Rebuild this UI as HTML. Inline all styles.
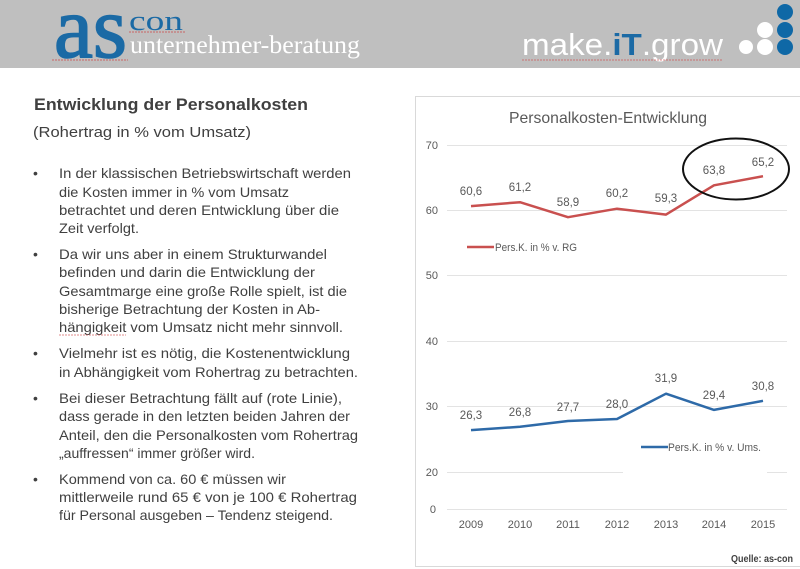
<!DOCTYPE html>
<html>
<head>
<meta charset="utf-8">
<style>
html,body{margin:0;padding:0;background:#fff;}
svg{display:block;}
</style>
</head>
<body>
<svg width="800" height="569" viewBox="0 0 800 569" xmlns="http://www.w3.org/2000/svg">
  <!-- Header -->
  <rect x="0" y="0" width="800" height="68" fill="#bfbfbf"/>
  <text x="54" y="57" font-family="Liberation Serif, serif" font-size="88" fill="#1b6aa5" stroke="#1b6aa5" stroke-width="1.6" textLength="73" lengthAdjust="spacingAndGlyphs">as</text>
  <text x="129" y="30" font-family="Liberation Serif, serif" font-size="28" fill="#1b6aa5" textLength="54" lengthAdjust="spacingAndGlyphs">con</text>
  <text x="130" y="53" font-family="Liberation Serif, serif" font-size="25" fill="#ffffff" textLength="230" lengthAdjust="spacingAndGlyphs">unternehmer-beratung</text>
  <path d="M52 60 L128 60 M129 32 L185 32" stroke="#d04040" stroke-width="1" stroke-dasharray="2,1" opacity="0.7"/>
  <text x="522" y="55" font-family="Liberation Sans, Arial, sans-serif" font-size="31" fill="#ffffff" textLength="201" lengthAdjust="spacingAndGlyphs">make.<tspan fill="#1b6aa5" font-weight="bold">iT</tspan>.grow</text>
  <path d="M522 60 L723 60" stroke="#d04040" stroke-width="1" stroke-dasharray="2,1" opacity="0.6"/>
  <circle cx="785" cy="12" r="8" fill="#0f68a6"/>
  <circle cx="785" cy="30" r="8" fill="#0f68a6"/>
  <circle cx="785" cy="47" r="8" fill="#0f68a6"/>
  <circle cx="765" cy="30" r="8" fill="#ffffff"/>
  <circle cx="765" cy="47" r="8" fill="#ffffff"/>
  <circle cx="746" cy="47" r="7" fill="#ffffff"/>

  <!-- Left text -->
  <g font-family="Liberation Sans, Arial, sans-serif" fill="#404040">
    <text x="34" y="110" font-size="17" font-weight="bold" textLength="274" lengthAdjust="spacingAndGlyphs">Entwicklung der Personalkosten</text>
    <text x="33" y="137" font-size="14.5" textLength="218" lengthAdjust="spacingAndGlyphs">(Rohertrag in % vom Umsatz)</text>
    <g font-size="14">
      <text x="33" y="178">•</text>
      <text x="59" y="178" textLength="292" lengthAdjust="spacingAndGlyphs">In der klassischen Betriebswirtschaft werden</text>
      <text x="59" y="197" textLength="230" lengthAdjust="spacingAndGlyphs">die Kosten immer in % vom Umsatz</text>
      <text x="59" y="215" textLength="280" lengthAdjust="spacingAndGlyphs">betrachtet und deren Entwicklung über die</text>
      <text x="59" y="233" textLength="80" lengthAdjust="spacingAndGlyphs">Zeit verfolgt.</text>

      <text x="33" y="259">•</text>
      <text x="59" y="259" textLength="268" lengthAdjust="spacingAndGlyphs">Da wir uns aber in einem Strukturwandel</text>
      <text x="59" y="277" textLength="256" lengthAdjust="spacingAndGlyphs">befinden und darin die Entwicklung der</text>
      <text x="59" y="296" textLength="288" lengthAdjust="spacingAndGlyphs">Gesamtmarge eine große Rolle spielt, ist die</text>
      <text x="59" y="314" textLength="261" lengthAdjust="spacingAndGlyphs">bisherige Betrachtung der Kosten in Ab-</text>
      <text x="59" y="332" textLength="284" lengthAdjust="spacingAndGlyphs">hängigkeit vom Umsatz nicht mehr sinnvoll.</text>

      <text x="33" y="358">•</text>
      <text x="59" y="358" textLength="291" lengthAdjust="spacingAndGlyphs">Vielmehr ist es nötig, die Kostenentwicklung</text>
      <text x="59" y="377" textLength="299" lengthAdjust="spacingAndGlyphs">in Abhängigkeit vom Rohertrag zu betrachten.</text>

      <text x="33" y="403">•</text>
      <text x="59" y="403" textLength="283" lengthAdjust="spacingAndGlyphs">Bei dieser Betrachtung fällt auf (rote Linie),</text>
      <text x="59" y="421" textLength="291" lengthAdjust="spacingAndGlyphs">dass gerade in den letzten beiden Jahren der</text>
      <text x="59" y="440" textLength="299" lengthAdjust="spacingAndGlyphs">Anteil, den die Personalkosten vom Rohertrag</text>
      <text x="59" y="458" textLength="196" lengthAdjust="spacingAndGlyphs">„auffressen“ immer größer wird.</text>

      <text x="33" y="484">•</text>
      <text x="59" y="484" textLength="227" lengthAdjust="spacingAndGlyphs">Kommend von ca. 60 € müssen wir</text>
      <text x="59" y="502" textLength="298" lengthAdjust="spacingAndGlyphs">mittlerweile rund 65 € von je 100 € Rohertrag</text>
      <text x="59" y="520" textLength="274" lengthAdjust="spacingAndGlyphs">für Personal ausgeben – Tendenz steigend.</text>
    </g>
    <path d="M59 335 L126 335" stroke="#d04040" stroke-width="1" stroke-dasharray="2,1" opacity="0.6"/>
  </g>

  <!-- Chart -->
  <rect x="415.5" y="96.5" width="390" height="470" fill="#ffffff" stroke="#d9d9d9" stroke-width="1"/>
  <text x="509" y="123" font-family="Liberation Sans, Arial, sans-serif" font-size="16" fill="#595959" textLength="198" lengthAdjust="spacingAndGlyphs">Personalkosten-Entwicklung</text>

  <!-- gridlines -->
  <g stroke="#e3e3e3" stroke-width="1">
    <line x1="447" y1="145.5" x2="787" y2="145.5"/>
    <line x1="447" y1="210.5" x2="787" y2="210.5"/>
    <line x1="447" y1="275.5" x2="787" y2="275.5"/>
    <line x1="447" y1="341.5" x2="787" y2="341.5"/>
    <line x1="447" y1="406.5" x2="787" y2="406.5"/>
    <line x1="447" y1="472.5" x2="623" y2="472.5"/>
    <line x1="767" y1="472.5" x2="787" y2="472.5"/>
    <line x1="447" y1="509.5" x2="787" y2="509.5"/>
  </g>

  <!-- y labels -->
  <g font-family="Liberation Sans, Arial, sans-serif" font-size="11" fill="#595959" text-anchor="end">
    <text x="438" y="149">70</text>
    <text x="438" y="214">60</text>
    <text x="438" y="279">50</text>
    <text x="438" y="345">40</text>
    <text x="438" y="410">30</text>
    <text x="438" y="476">20</text>
    <text x="436" y="513">0</text>
  </g>

  <!-- x labels -->
  <g font-family="Liberation Sans, Arial, sans-serif" font-size="11" fill="#595959" text-anchor="middle">
    <text x="471" y="528">2009</text>
    <text x="520" y="528">2010</text>
    <text x="568" y="528">2011</text>
    <text x="617" y="528">2012</text>
    <text x="666" y="528">2013</text>
    <text x="714" y="528">2014</text>
    <text x="763" y="528">2015</text>
  </g>

  <!-- red series -->
  <polyline fill="none" stroke="#c9504f" stroke-width="2.5" stroke-linejoin="round"
    points="471,206.1 520,202.2 568,217.2 617,208.7 666,214.6 714,185.3 763,176.2"/>
  <g font-family="Liberation Sans, Arial, sans-serif" font-size="11.5" fill="#595959" text-anchor="middle">
    <text x="471" y="195">60,6</text>
    <text x="520" y="191">61,2</text>
    <text x="568" y="206">58,9</text>
    <text x="617" y="197">60,2</text>
    <text x="666" y="202">59,3</text>
    <text x="714" y="174">63,8</text>
    <text x="763" y="166">65,2</text>
  </g>

  <!-- blue series -->
  <polyline fill="none" stroke="#2e6aa8" stroke-width="2.5" stroke-linejoin="round"
    points="471,430.1 520,426.8 568,421 617,419 666,393.7 714,409.9 763,400.8"/>
  <g font-family="Liberation Sans, Arial, sans-serif" font-size="11.5" fill="#595959" text-anchor="middle">
    <text x="471" y="419">26,3</text>
    <text x="520" y="416">26,8</text>
    <text x="568" y="411">27,7</text>
    <text x="617" y="408">28,0</text>
    <text x="666" y="382">31,9</text>
    <text x="714" y="399">29,4</text>
    <text x="763" y="390">30,8</text>
  </g>

  <!-- legends -->
  <line x1="467" y1="247" x2="494" y2="247" stroke="#c9504f" stroke-width="2.5"/>
  <text x="495" y="251" font-family="Liberation Sans, Arial, sans-serif" font-size="11" fill="#595959" textLength="82" lengthAdjust="spacingAndGlyphs">Pers.K. in % v. RG</text>
  <line x1="641" y1="447" x2="668" y2="447" stroke="#2e6aa8" stroke-width="2.5"/>
  <text x="668" y="451" font-family="Liberation Sans, Arial, sans-serif" font-size="11" fill="#595959" textLength="93" lengthAdjust="spacingAndGlyphs">Pers.K. in % v. Ums.</text>

  <!-- ellipse highlight -->
  <ellipse cx="736" cy="169" rx="53" ry="30.5" fill="none" stroke="#111111" stroke-width="2"/>

  <!-- source -->
  <text x="731" y="562" font-family="Liberation Sans, Arial, sans-serif" font-size="10" font-weight="bold" fill="#404040" textLength="62" lengthAdjust="spacingAndGlyphs">Quelle: as-con</text>
</svg>
</body>
</html>
